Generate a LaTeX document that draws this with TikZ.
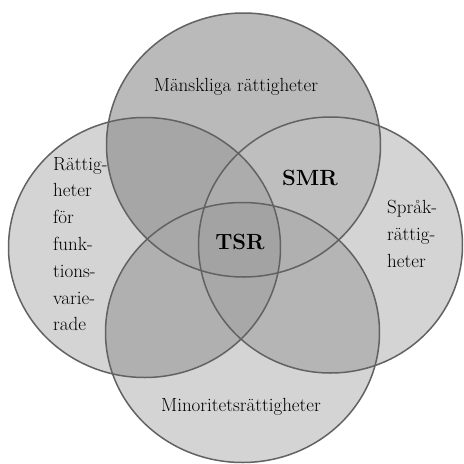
\documentclass[tikz,border=0pt]{standalone}
\begin{document}
\begin{tikzpicture}[x=1pt,y=-1pt]
\definecolor{cT}{HTML}{BABABA}
\definecolor{cS}{HTML}{D4D4D4}
\definecolor{cTL}{HTML}{A6A6A6}
\definecolor{cTR}{HTML}{BEBEBE}
\definecolor{cLB}{HTML}{B0B0B0}
\definecolor{cRB}{HTML}{B5B5B5}
\definecolor{cTLR}{HTML}{ACACAC}
\definecolor{cLRB}{HTML}{A8A8A8}
\definecolor{cTLB}{HTML}{A8A8A8}
\definecolor{cTRB}{HTML}{B0B0B0}
\definecolor{cAll}{HTML}{A3A3A3}
\definecolor{cEdge}{HTML}{626262}
\tikzset{
  edge/.style={draw=cEdge, line width=1.5pt},
  lbl/.style={inner sep=0pt, font=\fontsize{19}{22}\selectfont, text=black},
  big/.style={inner sep=0pt, font=\fontsize{22}{26}\selectfont\bfseries, text=black}
}
\def\Tc{(243.5,145) ellipse [x radius=137, y radius=132]}
\def\Lc{(144.5,247.5) ellipse [x radius=136, y radius=130]}
\def\Rc{(330.5,245) ellipse [x radius=132, y radius=128]}
\def\Bc{(242.5,332.5) ellipse [x radius=137, y radius=130]}
\useasboundingbox (0,0) rectangle (464,464);
\fill[white] (0,0) rectangle (464,464);
% single regions
\fill[cS] \Lc; \fill[cS] \Rc; \fill[cS] \Bc; \fill[cT] \Tc;
% pairs
\begin{scope}\clip \Tc; \fill[cTL] \Lc; \end{scope}
\begin{scope}\clip \Tc; \fill[cTR] \Rc; \end{scope}
\begin{scope}\clip \Lc; \fill[cLB] \Bc; \end{scope}
\begin{scope}\clip \Rc; \fill[cRB] \Bc; \end{scope}
% triples
\begin{scope}\clip \Tc; \clip \Lc; \fill[cTLR] \Rc; \end{scope}
\begin{scope}\clip \Lc; \clip \Rc; \fill[cLRB] \Bc; \end{scope}
\begin{scope}\clip \Tc; \clip \Lc; \fill[cTLB] \Bc; \end{scope}
\begin{scope}\clip \Tc; \clip \Rc; \fill[cTRB] \Bc; \end{scope}
% all four
\begin{scope}\clip \Tc; \clip \Lc; \clip \Rc; \fill[cAll] \Bc; \end{scope}
% outlines
\draw[edge] \Tc; \draw[edge] \Lc; \draw[edge] \Rc; \draw[edge] \Bc;
% labels
\node[lbl, anchor=base] (top) at (236,91) {Mänskliga rättigheter};
\node[lbl, anchor=base] (bot) at (241,411) {Minoritetsrättigheter};
\node[big, anchor=base] (smr) at (310,185) {SMR};
\node[big, anchor=base] (tsr) at (240,249) {TSR};
\node[lbl, anchor=base west] (l1) at (53,170) {Rättig-};
\node[lbl, anchor=base west] (l2) at (53,196.5) {heter};
\node[lbl, anchor=base west] (l3) at (53,223) {för};
\node[lbl, anchor=base west] (l4) at (53,250) {funk-};
\node[lbl, anchor=base west] (l5) at (53,277) {tions-};
\node[lbl, anchor=base west] (l6) at (53,304) {varie-};
\node[lbl, anchor=base west] (l7) at (53,330) {rade};
\node[lbl, anchor=base west] (r1) at (387,213) {Språk-};
\node[lbl, anchor=base west] (r2) at (387,240) {rättig-};
\node[lbl, anchor=base west] (r3) at (387,267) {heter};
\end{tikzpicture}
\end{document}
